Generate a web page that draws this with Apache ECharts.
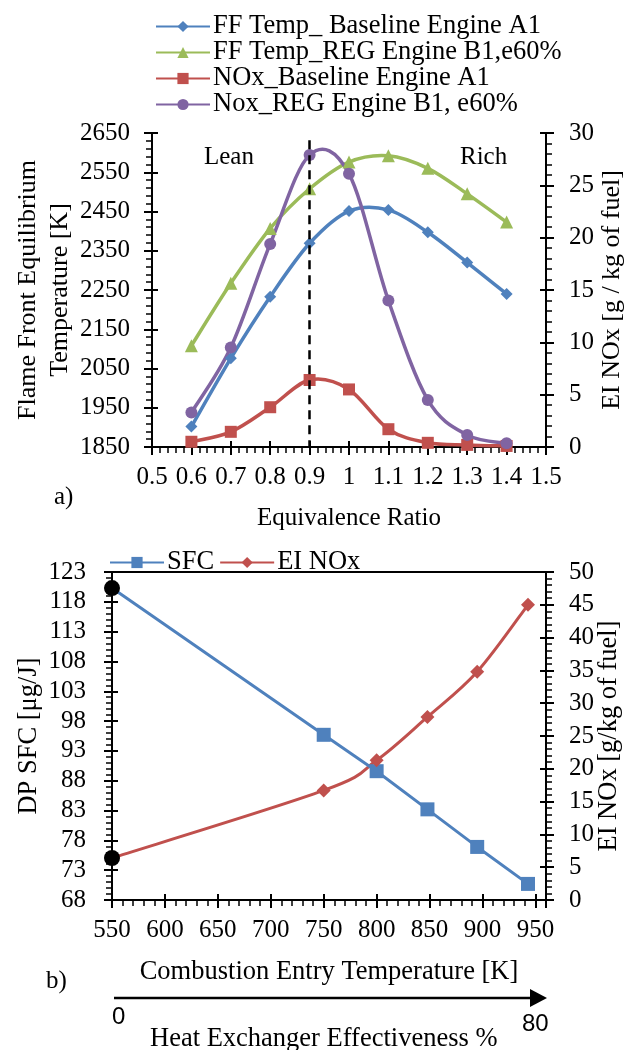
<!DOCTYPE html>
<html><head><meta charset="utf-8">
<script src="https://cdn.jsdelivr.net/npm/echarts@6/dist/echarts.min.js"></script>
<style>html,body{margin:0;padding:0;background:#fff}#c{width:628px;height:1050px}</style>
</head><body><div id="c"></div>
<script>
// ---------- data (chart a) ----------
const phi = [0.6, 0.7, 0.8, 0.9, 1.0, 1.1, 1.2, 1.3, 1.4];
const ffBaseline = [1902, 2076, 2233, 2369, 2451, 2454, 2397, 2320, 2240];
const ffReg = [2108, 2267, 2407, 2508, 2576, 2592, 2560, 2495, 2423];
const noxBaseline = [0.5, 1.45, 3.8, 6.4, 5.5, 1.7, 0.4, 0.2, 0.1];
const noxReg = [3.3, 9.5, 19.4, 27.9, 26.1, 14.0, 4.5, 1.15, 0.35];
const stoichLine = 0.9;
const namesA = ['FF Temp_ Baseline Engine A1', 'FF Temp_REG Engine B1,e60%', 'NOx_Baseline Engine A1', 'Nox_REG Engine B1, e60%'];
// ---------- data (chart b) ----------
const entryTemp = [550, 750, 800, 848, 895, 943];
const sfc = [120.3, 95.7, 89.6, 83.2, 76.9, 70.7];
const eiNox = [6.4, 16.7, 21.3, 27.9, 34.8, 45.0];
const namesB = ['SFC', 'EI NOx'];

const serif = 'Liberation Serif';
const C = { blue: '#4f81bd', green: '#9bbb59', red: '#c0504d', purple: '#8064a2' };
const lbl = { color: '#000', fontSize: 25, fontFamily: serif };

function mainAxis(o, nameSize, margin) {
  return Object.assign({
    type: 'value',
    axisLine: { show: true, onZero: false, lineStyle: { color: '#000', width: 2 } },
    axisTick: { show: true, inside: false, length: 8, lineStyle: { color: '#000', width: 2 } },
    minorTick: { show: true, splitNumber: 5, length: 6, lineStyle: { color: '#000', width: 1.5 } },
    splitLine: { show: false },
    axisLabel: Object.assign({ margin: margin, formatter: v => String(Math.round(v * 100) / 100) }, lbl),
    nameLocation: 'middle',
    nameMoveOverlap: false,
    nameTextStyle: { color: '#000', fontSize: nameSize, fontFamily: serif }
  }, o);
}
function dupAxis(o) {
  return Object.assign({
    type: 'value',
    axisLine: { show: false, onZero: false },
    axisTick: { show: true, inside: true, length: 6, lineStyle: { color: '#000', width: 2 } },
    minorTick: { show: false },
    splitLine: { show: false },
    axisLabel: { show: false }
  }, o);
}

const xA = { min: 0.5, max: 1.5, interval: 0.1, position: 'bottom' };
const yAL = { min: 1850, max: 2650, interval: 100, position: 'left' };
const yAR = { min: 0, max: 30, interval: 5, position: 'right' };
const xB = { min: 550, max: 960, interval: 50, position: 'bottom' };
const yBL = { min: 68, max: 123, interval: 5, position: 'left' };
const yBR = { min: 0, max: 50, interval: 5, position: 'right' };
const g = (o, i) => Object.assign({ gridIndex: i }, o);

function pairs(xs, ys) { return xs.map((x, i) => [x, ys[i]]); }
function withStart(xs, ys) {
  return xs.map((x, i) => i === 0
    ? { value: [x, ys[i]], symbol: 'circle', symbolSize: 16, itemStyle: { color: '#000' } }
    : [x, ys[i]]);
}
// Excel-like smoothed curve drawn segment by segment through the axes' own scales
function spline(xs, ys, xi, yi, color, width) {
  const n = xs.length;
  return {
    type: 'custom', xAxisIndex: xi, yAxisIndex: yi, silent: true, z: 1, clip: false,
    data: xs.slice(0, n - 1).map((x, i) => [x, ys[i]]),
    encode: { x: 0, y: 1 },
    renderItem: (params, api) => {
      const i = params.dataIndex;
      const P = k => { const j = Math.max(0, Math.min(n - 1, k)); return api.coord([xs[j], ys[j]]); };
      const p0 = P(i - 1), p1 = P(i), p2 = P(i + 1), p3 = P(i + 2);
      const t = 1 / 6;
      return {
        type: 'bezierCurve',
        shape: { x1: p1[0], y1: p1[1], x2: p2[0], y2: p2[1],
          cpx1: p1[0] + (p2[0] - p0[0]) * t, cpy1: p1[1] + (p2[1] - p0[1]) * t,
          cpx2: p2[0] - (p3[0] - p1[0]) * t, cpy2: p2[1] - (p3[1] - p1[1]) * t },
        style: { stroke: color, lineWidth: width, fill: null, lineCap: 'round' }
      };
    }
  };
}
function markerSeries(name, xs, ys, xi, yi, color, symbol, size, width, data) {
  return { name, type: 'line', xAxisIndex: xi, yAxisIndex: yi, z: 3, data: data || pairs(xs, ys),
    symbol, symbolSize: size, lineStyle: { color, width, opacity: 0 }, itemStyle: { color } };
}

const gridA = { left: 152, right: 82, top: 133, height: 314, outerBoundsMode: 'none', containLabel: false };
const gridB = { left: 112, right: 82, top: 572, height: 328, outerBoundsMode: 'none', containLabel: false };

const sA = [
  markerSeries(namesA[0], phi, ffBaseline, 0, 0, C.blue, 'diamond', 12, 3.5),
  markerSeries(namesA[1], phi, ffReg, 0, 0, C.green, 'triangle', 13, 3.5),
  markerSeries(namesA[2], phi, noxBaseline, 0, 1, C.red, 'rect', 12, 3.5),
  markerSeries(namesA[3], phi, noxReg, 0, 1, C.purple, 'circle', 12, 3.5)
];
sA[3].markLine = { silent: true, symbol: 'none', label: { show: false },
  lineStyle: { color: '#000', width: 2.5, type: [9, 6], opacity: 1 },
  data: [[{ coord: [stoichLine, 29.3] }, { coord: [stoichLine, 0] }]] };

const sfcSeries = markerSeries(namesB[0], entryTemp, sfc, 1, 4, C.blue, 'rect', 14, 3, withStart(entryTemp, sfc));
sfcSeries.lineStyle.opacity = 1;

const option = {
  animation: false,
  backgroundColor: '#fff',
  grid: [
    gridA,
    Object.assign({ show: true, borderColor: '#000', borderWidth: 2, backgroundColor: 'transparent' }, gridB),
    Object.assign({}, gridA),
    Object.assign({}, gridB)
  ],
  legend: [
    { data: namesA, orient: 'vertical', left: 150, top: 8, itemWidth: 54, itemHeight: 14, itemGap: -1,
      lineStyle: { opacity: 1 },
      textStyle: { color: '#000', fontSize: 26.5, lineHeight: 26, fontFamily: serif, padding: [0, 0, 0, -2] } },
    { data: namesB, orient: 'horizontal', left: 104, top: 544, itemWidth: 54, itemHeight: 14, itemGap: 5,
      lineStyle: { opacity: 1 },
      textStyle: { color: '#000', fontSize: 26.5, fontFamily: serif, padding: [0, 0, 0, -2] } }
  ],
  xAxis: [
    mainAxis(g(Object.assign({}, xA, { name: 'Equivalence Ratio', nameGap: 59 }), 0), 25, 18),
    mainAxis(g(Object.assign({}, xB, { name: 'Combustion Entry Temperature [K]', nameGap: 59,
      axisLabel: Object.assign({ margin: 18, formatter: v => (v > 950 ? '' : String(v)) }, lbl) }), 1), 26.5),
    dupAxis(g(xA, 2)),
    dupAxis(g(xB, 3))
  ],
  yAxis: [
    mainAxis(g(Object.assign({}, yAL, { name: 'Flame Front Equilibrium\nTemperature [K]', nameGap: 76, nameRotate: 90,
      nameTextStyle: { color: '#000', fontSize: 26, lineHeight: 32, fontFamily: serif } }), 0), 26, 22),
    mainAxis(g(Object.assign({}, yAR, { name: 'EI NOx [g / kg of fuel]', nameGap: 53, nameRotate: 90 }), 0), 26, 23),
    dupAxis(g(yAL, 2)),
    dupAxis(g(yAR, 2)),
    mainAxis(g(Object.assign({}, yBL, { name: 'DP SFC [μg/J]', nameGap: 69, nameRotate: 90 }), 1), 26.5, 26),
    dupAxis(g(yBL, 3)),
    mainAxis(g(Object.assign({}, yBR, { name: 'EI NOx [g/kg of fuel]', nameGap: 50, nameRotate: 90 }), 1), 26.5, 23),
    dupAxis(g(yBR, 3))
  ],
  series: [
    spline(phi, ffBaseline, 0, 0, C.blue, 3.5),
    spline(phi, ffReg, 0, 0, C.green, 3.5),
    spline(phi, noxBaseline, 0, 1, C.red, 3.5),
    spline(phi, noxReg, 0, 1, C.purple, 3.5),
    ...sA,
    sfcSeries,
    spline(entryTemp, eiNox, 1, 6, C.red, 3),
    markerSeries(namesB[1], entryTemp, eiNox, 1, 6, C.red, 'diamond', 14, 3, withStart(entryTemp, eiNox))
  ],
  graphic: [
    { type: 'text', left: 204, top: 145, style: { text: 'Lean', font: '25px "Liberation Serif"', fill: '#000' } },
    { type: 'text', left: 460, top: 145, style: { text: 'Rich', font: '25px "Liberation Serif"', fill: '#000' } },
    { type: 'text', left: 54, top: 485, style: { text: 'a)', font: '25px "Liberation Serif"', fill: '#000' } },
    { type: 'text', left: 46, top: 969, style: { text: 'b)', font: '25px "Liberation Serif"', fill: '#000' } },
    { type: 'line', shape: { x1: 114, y1: 998, x2: 532, y2: 998 }, style: { stroke: '#000', lineWidth: 2.5 } },
    { type: 'polygon', shape: { points: [[530, 989], [547, 998], [530, 1007]] }, style: { fill: '#000' } },
    { type: 'text', left: 112, top: 1005, style: { text: '0', font: '24px "Liberation Sans"', fill: '#000' } },
    { type: 'text', left: 522, top: 1012, style: { text: '80', font: '24px "Liberation Sans"', fill: '#000' } },
    { type: 'text', left: 150, top: 1026, style: { text: 'Heat Exchanger Effectiveness %', font: '26.5px "Liberation Serif"', fill: '#000' } }
  ]
};
const chart = echarts.init(document.getElementById('c'), null, { renderer: 'canvas' });
chart.setOption(option);
</script></body></html>
